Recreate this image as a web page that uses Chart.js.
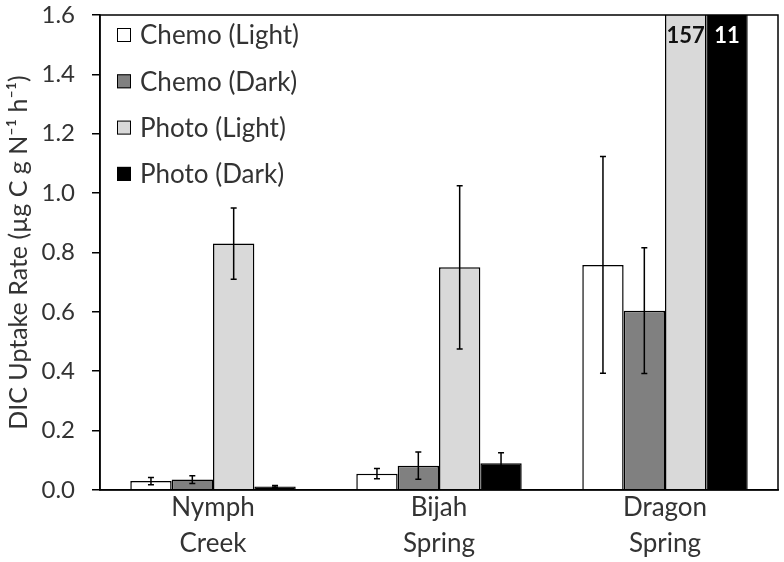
<!DOCTYPE html>
<html>
<head>
<meta charset="utf-8">
<script src="https://cdn.jsdelivr.net/npm/chart.js@4.4.1/dist/chart.umd.min.js"></script>
<style>
  html, body { margin: 0; padding: 0; background: #fff; }
  #wrap { width: 784px; height: 562px; position: relative; }
</style>
</head>
<body>
<div id="wrap"><canvas id="c" width="784" height="562"></canvas></div>
<script>
// ---- data ----
const categories = [["Nymph", "Creek"], ["Bijah", "Spring"], ["Dragon", "Spring"]];
const seriesNames = ["Chemo (Light)", "Chemo (Dark)", "Photo (Light)", "Photo (Dark)"];
const chemoLight = [0.030, 0.055, 0.758];
const chemoDark  = [0.035, 0.082, 0.604];
const photoLight = [0.830, 0.750, 157];
const photoDark  = [0.012, 0.090, 11];
const chemoLightErr = [0.012, 0.017, 0.365];
const chemoDarkErr  = [0.013, 0.046, 0.212];
const photoLightErr = [0.120, 0.275, null];
const photoDarkErr  = [0.003, 0.035, null];
const yTicks = [0, 0.2, 0.4, 0.6, 0.8, 1.0, 1.2, 1.4, 1.6];

const FONT = "Lato, 'Open Sans', 'Liberation Sans', sans-serif";
const TXT = '#333333';

const fills = ['#ffffff', '#808080', '#d9d9d9', '#000000'];
const valueLabelColors = ['#111111', '#111111', '#111111', '#ffffff'];
const allValues = [chemoLight, chemoDark, photoLight, photoDark];
const allErrs = [chemoLightErr, chemoDarkErr, photoLightErr, photoDarkErr];

const datasets = seriesNames.map((name, i) => ({
  label: name,
  data: allValues[i],
  errors: allErrs[i],
  backgroundColor: fills[i],
  borderColor: '#000000',
  borderWidth: 1.5,
  borderSkipped: 'bottom',
  categoryPercentage: 0.732,
  barPercentage: 1.0,
  clip: 0
}));

// error bars
const errorBarPlugin = {
  id: 'errorBars',
  afterDatasetsDraw(chart) {
    const ctx = chart.ctx;
    const y = chart.scales.y;
    ctx.save();
    ctx.strokeStyle = '#000';
    ctx.lineWidth = 1.5;
    chart.data.datasets.forEach((ds, di) => {
      const meta = chart.getDatasetMeta(di);
      meta.data.forEach((bar, i) => {
        const e = ds.errors[i];
        const v = ds.data[i];
        if (e == null || v > y.max) return;
        const x = bar.x;
        const yt = y.getPixelForValue(v + e);
        const yb = y.getPixelForValue(Math.max(v - e, 0));
        const cap = 3;
        ctx.beginPath();
        ctx.moveTo(x, yt); ctx.lineTo(x, yb);
        ctx.moveTo(x - cap, yt); ctx.lineTo(x + cap, yt);
        ctx.moveTo(x - cap, yb); ctx.lineTo(x + cap, yb);
        ctx.stroke();
      });
    });
    ctx.restore();
  }
};

// out-of-range value labels + frame + legend
const decorPlugin = {
  id: 'decor',
  afterDatasetsDraw(chart) {
    const ctx = chart.ctx;
    const a = chart.chartArea;
    const y = chart.scales.y;
    ctx.save();
    // frame
    ctx.strokeStyle = '#000';
    ctx.lineWidth = 1.5;
    ctx.strokeRect(a.left, a.top, a.right - a.left, a.bottom - a.top);
    // labels for bars exceeding the axis
    ctx.font = "bold 22px " + FONT;
    ctx.textAlign = 'center';
    ctx.textBaseline = 'middle';
    chart.data.datasets.forEach((ds, di) => {
      const meta = chart.getDatasetMeta(di);
      meta.data.forEach((bar, i) => {
        const v = ds.data[i];
        if (v > y.max) {
          ctx.fillStyle = valueLabelColors[di];
          ctx.fillText(String(v), bar.x, a.top + 21);
        }
      });
    });
    // legend
    ctx.font = "26px " + FONT;
    ctx.textAlign = 'left';
    ctx.textBaseline = 'middle';
    chart.data.datasets.forEach((ds, di) => {
      const cy = a.top + 20 + di * 46.3;
      const bx = a.left + 17;
      ctx.fillStyle = ds.backgroundColor;
      ctx.fillRect(bx, cy - 7, 14, 14);
      ctx.strokeStyle = '#000';
      ctx.lineWidth = 1;
      ctx.strokeRect(bx + 0.5, cy - 6.5, 13, 13);
      ctx.fillStyle = TXT;
      ctx.fillText(ds.label, bx + 23, cy + 1);
    });
    ctx.restore();
  }
};

new Chart(document.getElementById('c'), {
  type: 'bar',
  data: { labels: categories, datasets },
  plugins: [errorBarPlugin, decorPlugin],
  options: {
    responsive: false,
    animation: false,
    devicePixelRatio: 1,
    layout: { padding: { top: 15, right: 6, bottom: 0, left: 3 } },
    plugins: {
      legend: { display: false },
      tooltip: { enabled: false }
    },
    scales: {
      x: {
        grid: { display: false, drawTicks: false },
        border: { display: true, color: '#000', width: 1.5 },
        ticks: {
          color: TXT,
          font: { family: FONT, size: 26, lineHeight: 1.385 },
          padding: 0,
          maxRotation: 0
        },
        afterFit(scale) { scale.paddingLeft = 0; scale.paddingRight = 0; }
      },
      y: {
        min: 0,
        max: 1.6,
        afterBuildTicks(scale) { scale.ticks = yTicks.map(v => ({ value: v })); },
        afterFit(scale) { scale.width = 97; scale.paddingTop = 0; scale.paddingBottom = 0; },
        grid: { drawOnChartArea: false, drawTicks: true, tickLength: 8, color: '#000', lineWidth: 1.5 },
        border: { display: true, color: '#000', width: 1.5 },
        ticks: {
          color: TXT,
          font: { family: FONT, size: 24 },
          padding: 17,
          callback: (v) => Number(v).toFixed(1)
        },
        title: {
          display: true,
          text: 'DIC Uptake Rate (µg C g N⁻¹ h⁻¹)',
          color: TXT,
          font: { family: FONT, size: 25 },
          padding: { top: 1, bottom: 9 }
        }
      }
    }
  }
});
</script>
</body>
</html>
